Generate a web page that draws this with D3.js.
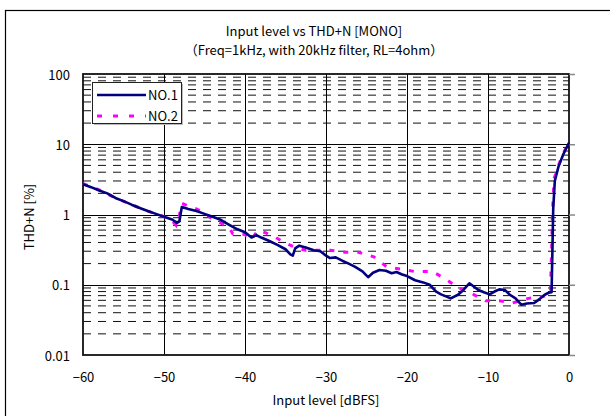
<!DOCTYPE html>
<html>
<head>
<meta charset="utf-8">
<script src="https://cdn.jsdelivr.net/npm/d3@7"></script>
<style>
html,body{margin:0;padding:0;background:#fff;}
svg{display:block;}
text{font-family:"Noto Sans CJK JP","Liberation Sans",sans-serif;fill:#000;}
</style>
</head>
<body>
<svg id="chart" width="610" height="416"></svg>
<script>
// ---- data ----
const titleLines = ["Input level vs THD+N [MONO]", "\uFF08Freq=1kHz, with 20kHz filter, RL=4ohm\uFF09"];
const xLabel = "Input level [dBFS]";
const yLabel = "THD+N [%]";
const xTicks = [-60, -50, -40, -30, -20, -10, 0];
const yTicks = [0.01, 0.1, 1, 10, 100];
const seriesNames = ["NO.1", "NO.2"];

const no1X = [-60,-59,-58,-57,-56,-55,-54,-53,-52,-51,-50,-49,-48.4,-48.1,-47.8,-47,-46,-45,-44,-43,-42,-41,-40,-39.2,-38.6,-38,-37,-36,-35,-34.4,-34.1,-33.8,-33.3,-32.5,-31.5,-30.7,-30,-29.5,-28.8,-28,-27.2,-26.4,-25.5,-24.8,-24.2,-23.4,-22.6,-21.9,-21.3,-20.6,-20,-19,-18,-17.2,-16.4,-15.8,-14.6,-13.7,-13,-12.3,-11.8,-11.2,-10.5,-9.8,-9.2,-8.6,-7.9,-7.3,-6.6,-5.9,-5.2,-4.3,-3.6,-3.0,-2.5,-2.15,-2.05,-1.95,-1.75,-1.3,-0.7,0];
const no1Y = [2.70,2.45,2.2,2.0,1.72,1.55,1.38,1.24,1.12,1.02,0.93,0.85,0.76,0.80,1.28,1.20,1.12,1.02,0.93,0.84,0.72,0.62,0.56,0.47,0.51,0.47,0.42,0.37,0.32,0.27,0.26,0.33,0.36,0.34,0.31,0.30,0.26,0.24,0.245,0.22,0.20,0.18,0.155,0.128,0.148,0.162,0.158,0.146,0.152,0.14,0.133,0.116,0.108,0.10,0.08,0.073,0.064,0.072,0.085,0.105,0.095,0.084,0.078,0.073,0.08,0.086,0.084,0.072,0.064,0.052,0.054,0.055,0.063,0.072,0.077,0.078,0.3,1.2,3.0,4.8,7.2,10.5];

const no2X = [-60,-58,-56,-54,-52,-50,-49,-48.5,-48.2,-47.8,-47,-46,-45,-44,-43,-42,-41.5,-40,-39.2,-38.4,-37.5,-36.2,-35.5,-34.5,-33.5,-32.5,-31,-29.5,-27.7,-26,-24.1,-22.5,-20.6,-18.9,-16.9,-15.2,-13.6,-11.9,-10.3,-8.6,-7.0,-5.0,-3.2,-2.3,-2.15,-2.05,-1.85,-1.3,-0.7,0];
const no2Y = [2.75,2.25,1.72,1.38,1.12,0.93,0.82,0.70,0.85,1.44,1.32,1.2,1.05,0.86,0.76,0.66,0.53,0.52,0.44,0.60,0.55,0.47,0.42,0.37,0.33,0.31,0.31,0.31,0.29,0.29,0.25,0.18,0.166,0.153,0.155,0.12,0.089,0.074,0.059,0.059,0.055,0.064,0.068,0.075,0.3,1.0,3.2,5.0,7.5,10.5];

// ---- layout ----
const svg = d3.select("#chart");
const L = 83, R = 569, T = 74, B = 355;
const x = d3.scaleLinear().domain([-60, 0]).range([L, R]);
const y = d3.scaleLog().domain([0.01, 100]).range([B, T]);

// outer chart border
svg.append("rect").attr("x", 5.5).attr("y", 10.5).attr("width", 700).attr("height", 500)
  .attr("fill", "#fff").attr("stroke", "#000").attr("stroke-width", 1.2);

// plot background
svg.append("rect").attr("x", L).attr("y", T).attr("width", R - L).attr("height", B - T).attr("fill", "#fff");

// minor horizontal gridlines
const minor = [];
for (let d = -2; d < 2; d++) for (let m = 2; m <= 9; m++) minor.push(m * Math.pow(10, d));
svg.append("g").selectAll("line").data(minor).join("line")
  .attr("x1", L).attr("x2", R).attr("y1", d => y(d)).attr("y2", d => y(d))
  .attr("stroke", "#111").attr("stroke-width", 1).attr("stroke-dasharray", "8,7");

// major horizontal gridlines
svg.append("g").selectAll("line").data(yTicks.slice(1, -1)).join("line")
  .attr("x1", L).attr("x2", R).attr("y1", d => Math.round(y(d)) + 0.5).attr("y2", d => Math.round(y(d)) + 0.5)
  .attr("stroke", "#000").attr("stroke-width", 1);

// vertical gridlines
svg.append("g").selectAll("line").data(xTicks.slice(1, -1)).join("line")
  .attr("x1", d => Math.round(x(d)) + 0.5).attr("x2", d => Math.round(x(d)) + 0.5).attr("y1", T).attr("y2", B)
  .attr("stroke", "#000").attr("stroke-width", 1);

// plot border
svg.append("rect").attr("x", L).attr("y", T).attr("width", R - L).attr("height", B - T)
  .attr("fill", "none").attr("stroke", "#111").attr("stroke-width", 1.8);

// right-side outward ticks
const rAxis = svg.append("g").attr("transform", `translate(${R},0)`)
  .call(d3.axisRight(y).tickValues(yTicks).tickSize(6).tickFormat(""));
rAxis.select(".domain").remove();
rAxis.selectAll("line").attr("stroke", "#888").attr("stroke-width", 1.5);

// x axis labels
const xAxis = svg.append("g").attr("transform", `translate(0,${B})`)
  .call(d3.axisBottom(x).tickValues(xTicks).tickSize(0).tickPadding(18));
xAxis.select(".domain").remove();
xAxis.selectAll("text").attr("font-size", 13).attr("font-family", null).style("fill", "#000");

// y axis labels
const yAxis = svg.append("g").attr("transform", `translate(${L},1)`)
  .call(d3.axisLeft(y).tickValues(yTicks).tickSize(0).tickPadding(13).tickFormat(d => String(d)));
yAxis.select(".domain").remove();
yAxis.selectAll("text").attr("font-size", 13).attr("font-family", null).style("fill", "#000");

// titles
svg.append("text").attr("x", 314).attr("y", 36).attr("text-anchor", "middle").attr("font-size", 13).text(titleLines[0]);
svg.append("text").attr("x", 314).attr("y", 55).attr("text-anchor", "middle").attr("font-size", 13).text(titleLines[1]);
svg.append("text").attr("x", 326).attr("y", 405).attr("text-anchor", "middle").attr("font-size", 13).text(xLabel);
svg.append("text").attr("transform", "translate(34,217) rotate(-90)").attr("text-anchor", "middle").attr("font-size", 13).text(yLabel);

// series
const clip = svg.append("clipPath").attr("id", "pc").append("rect")
  .attr("x", L - 2).attr("y", T - 2).attr("width", R - L + 4).attr("height", B - T + 4);
const line = d3.line().x(d => x(d[0])).y(d => y(d[1]));
const d1 = no1X.map((v, i) => [v, no1Y[i]]);
const d2 = no2X.map((v, i) => [v, no2Y[i]]);
svg.append("path").datum(d2).attr("d", line).attr("fill", "none").attr("stroke", "#FF00FF")
  .attr("stroke-width", 3).attr("stroke-dasharray", "5,9").attr("clip-path", "url(#pc)");
svg.append("path").datum(d1).attr("d", line).attr("fill", "none").attr("stroke", "#000080")
  .attr("stroke-width", 2.6).attr("stroke-linejoin", "round").attr("clip-path", "url(#pc)");

// legend
const lg = svg.append("g");
lg.append("rect").attr("x", 94).attr("y", 84).attr("width", 89).attr("height", 41).attr("fill", "#bbb");
lg.append("rect").attr("x", 92.5).attr("y", 82.5).attr("width", 89).attr("height", 41)
  .attr("fill", "#fff").attr("stroke", "#222").attr("stroke-width", 1);
lg.append("line").attr("x1", 97).attr("x2", 146).attr("y1", 95).attr("y2", 95)
  .attr("stroke", "#000080").attr("stroke-width", 2.6);
lg.append("line").attr("x1", 97).attr("x2", 146).attr("y1", 116).attr("y2", 116)
  .attr("stroke", "#FF00FF").attr("stroke-width", 3).attr("stroke-dasharray", "5,11");
lg.append("text").attr("x", 148).attr("y", 99.5).attr("font-size", 13).text(seriesNames[0]);
lg.append("text").attr("x", 148).attr("y", 120.5).attr("font-size", 13).text(seriesNames[1]);
</script>
</body>
</html>
